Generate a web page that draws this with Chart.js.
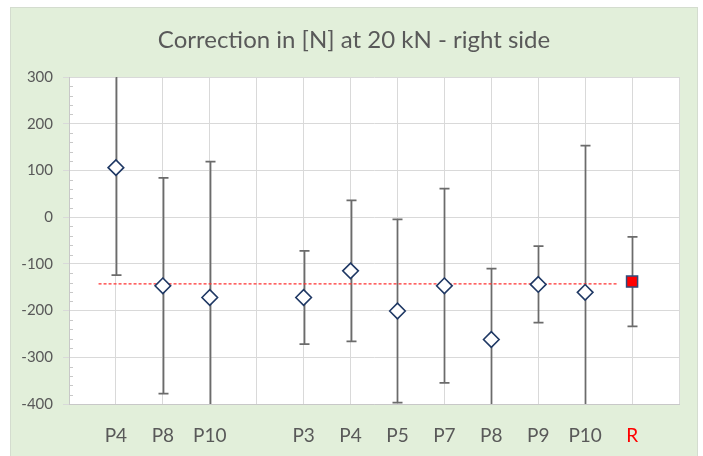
<!DOCTYPE html>
<html>
<head>
<meta charset="utf-8">
<script src="https://cdn.jsdelivr.net/npm/chart.js@4/dist/chart.umd.min.js"></script>
<style>
  html, body { margin: 0; padding: 0; background: #ffffff; }
  #wrap { position: relative; width: 703px; height: 456px; }
</style>
</head>
<body>
<div id="wrap"><canvas id="c" width="703" height="456"></canvas></div>
<script>
// Category labels along the x axis (empty slot separates the two groups)
const categories = ['P4', 'P8', 'P10', '', 'P3', 'P4', 'P5', 'P7', 'P8', 'P9', 'P10', 'R'];
// Correction per position [N]; null = empty slot, last slot = resulting value R
const corrections = [106, -147, -172, null, -172, -115, -201, -147, -262, -144, -161, null];
// Symmetric uncertainty of each correction [N]
const uncertainties = [230, 231, 291, null, 100, 151, 196, 208, 152, 82, 314, null];
// Result R and its uncertainty
const resultValue = [-138];
const resultUncertainty = [96];
// Mean level line and its horizontal extent (x axis units)
const meanLevel = [-143];
const meanSpan = [0.63, 11.67];
// Y axis tick values
const yTicks = [-400, -300, -200, -100, 0, 100, 200, 300];

const TITLE = 'Correction in [N] at 20 kN - right side';
const FONT = 'Lato, "Open Sans", sans-serif';
const TEXT = '#595959';

const pointsData = [];
const pointsErr = [];
corrections.forEach((v, i) => {
  if (v !== null) { pointsData.push({ x: i + 1, y: v }); pointsErr.push(uncertainties[i]); }
});
const rIndex = categories.indexOf('R') + 1;

// Green frame, white plot background and the centred chart title
const framePlugin = {
  id: 'frame',
  beforeDraw(chart) {
    const { ctx, chartArea: a } = chart;
    ctx.save();
    ctx.fillStyle = '#e2efda';
    ctx.fillRect(10, 7, 688, 449);
    ctx.strokeStyle = '#d4dccf';
    ctx.lineWidth = 1;
    ctx.strokeRect(10.5, 7.5, 687, 449);
    ctx.fillStyle = '#ffffff';
    ctx.fillRect(a.left, a.top, a.right - a.left, a.bottom - a.top);
    ctx.fillStyle = TEXT;
    ctx.font = '24px ' + FONT;
    ctx.textAlign = 'center';
    ctx.textBaseline = 'middle';
    ctx.fillText(TITLE, 354, 40);
    ctx.restore();
  }
};

// Vertical error bars with caps, clipped to the plot area
const errorBarPlugin = {
  id: 'errorBars',
  beforeDatasetsDraw(chart) {
    const { ctx, chartArea: a, scales: { x, y } } = chart;
    ctx.save();
    ctx.beginPath();
    ctx.rect(a.left, a.top, a.right - a.left, a.bottom - a.top);
    ctx.clip();
    ctx.strokeStyle = '#6b6b6b';
    ctx.lineWidth = 1.75;
    chart.data.datasets.forEach(ds => {
      if (!ds.errors) return;
      ds.data.forEach((p, i) => {
        const e = ds.errors[i];
        const px = Math.round(x.getPixelForValue(p.x)) + 0.5;
        const yTop = y.getPixelForValue(p.y + e);
        const yBot = y.getPixelForValue(p.y - e);
        ctx.beginPath();
        ctx.moveTo(px, yTop); ctx.lineTo(px, yBot);
        ctx.moveTo(px - 5, yTop); ctx.lineTo(px + 5, yTop);
        ctx.moveTo(px - 5, yBot); ctx.lineTo(px + 5, yBot);
        ctx.stroke();
      });
    });
    ctx.restore();
  }
};

// Minor tick marks on the value axis every 20 N
const minorTickPlugin = {
  id: 'minorTicks',
  afterDraw(chart) {
    const { ctx, chartArea: a, scales: { y } } = chart;
    ctx.save();
    ctx.strokeStyle = '#c8c8c8';
    ctx.lineWidth = 1;
    for (let v = y.min; v <= y.max; v += 20) {
      if (v % 100 === 0) continue;
      const py = Math.round(y.getPixelForValue(v)) + 0.5;
      ctx.beginPath();
      ctx.moveTo(a.left, py); ctx.lineTo(a.left + 4, py);
      ctx.stroke();
    }
    ctx.restore();
  }
};

new Chart(document.getElementById('c'), {
  type: 'scatter',
  data: {
    datasets: [
      {
        label: 'mean',
        data: meanSpan.map(xv => ({ x: xv, y: meanLevel[0] })),
        showLine: true,
        borderColor: '#ff3030',
        borderWidth: 1.3,
        borderDash: [3, 2],
        pointRadius: 0,
        order: 3
      },
      {
        label: 'corrections',
        data: pointsData,
        errors: pointsErr,
        pointStyle: 'rectRot',
        pointRadius: 7.8,
        pointBorderWidth: 1.6,
        pointBorderColor: '#1f3864',
        pointBackgroundColor: '#ffffff',
        order: 2
      },
      {
        label: 'R',
        data: resultValue.map(v => ({ x: rIndex, y: v })),
        errors: resultUncertainty,
        pointStyle: 'rect',
        pointRadius: 7.8,
        pointBorderWidth: 1.5,
        pointBorderColor: '#2f4a7a',
        pointBackgroundColor: '#ff0000',
        order: 1
      }
    ]
  },
  options: {
    responsive: false,
    animation: false,
    events: [],
    layout: { padding: { left: 0, right: 24, top: 77, bottom: 0 } },
    plugins: {
      legend: { display: false },
      tooltip: { enabled: false },
      title: { display: false }
    },
    scales: {
      x: {
        type: 'linear',
        min: 0,
        max: categories.length + 1,
        afterBuildTicks(scale) {
          scale.ticks = [];
          for (let i = 0; i <= categories.length + 1; i++) scale.ticks.push({ value: i });
        },
        afterFit(scale) { scale.height = 52; },
        grid: { color: '#d9d9d9', lineWidth: 1, drawTicks: false },
        border: { color: '#c8c8c8', width: 1 },
        ticks: {
          autoSkip: false,
          maxRotation: 0,
          padding: 20,
          font: { family: FONT, size: 19 },
          color: ctx => (ctx.tick && categories[ctx.tick.value - 1] === 'R') ? '#ff0000' : TEXT,
          callback: v => categories[v - 1] || ''
        }
      },
      y: {
        min: yTicks[0],
        max: yTicks[yTicks.length - 1],
        afterBuildTicks(scale) { scale.ticks = yTicks.map(v => ({ value: v })); },
        afterFit(scale) { scale.width = 69; },
        grid: { color: '#d9d9d9', lineWidth: 1, drawTicks: true, tickLength: 6 },
        border: { color: '#c8c8c8', width: 1 },
        ticks: {
          padding: 10,
          font: { family: FONT, size: 15 },
          color: TEXT
        }
      }
    }
  },
  plugins: [framePlugin, errorBarPlugin, minorTickPlugin]
});
</script>
</body>
</html>
